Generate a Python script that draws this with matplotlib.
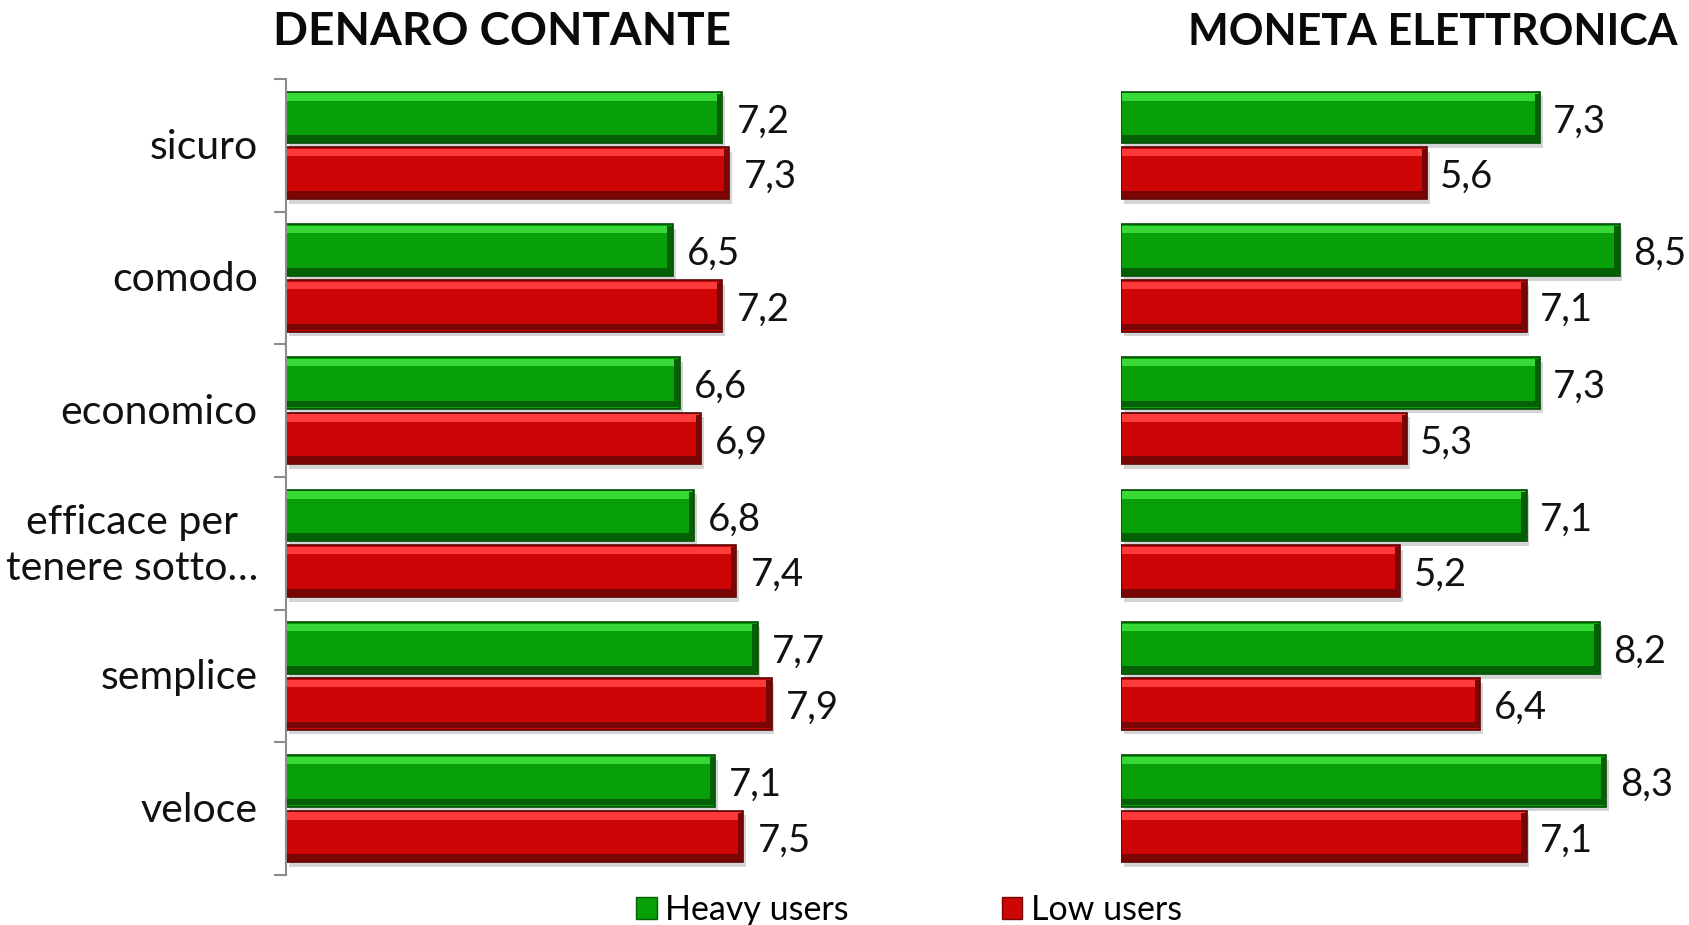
import matplotlib.pyplot as plt
import numpy as np
from matplotlib.patches import Patch

categories = ["sicuro", "comodo", "economico", "efficace per\ntenere sotto…", "semplice", "veloce"]

# DENARO CONTANTE
cash_heavy = [7.2, 6.5, 6.6, 6.8, 7.7, 7.1]
cash_low = [7.3, 7.2, 6.9, 7.4, 7.9, 7.5]

# MONETA ELETTRONICA
card_heavy = [7.3, 8.5, 7.3, 7.1, 8.2, 8.3]
card_low = [5.6, 7.1, 5.3, 5.2, 6.4, 7.1]

titles = ["DENARO CONTANTE", "MONETA ELETTRONICA"]
series_names = ["Heavy users", "Low users"]

plt.rcParams['font.family'] = ['Lato', 'DejaVu Sans']

GREEN = dict(base="#08a008", light="#36d936", dark="#056005", edge="#044a04")
RED = dict(base="#cc0606", light="#ff3a3a", dark="#7a0505", edge="#5a0404")

XMIN = 1
XMAX = 9
BAR_H = 0.39
OFF = 0.21


def bevel_bars(ax, y, vals, col):
    vals = np.asarray(vals)
    w = vals - XMIN
    # soft shadow
    ax.barh(y + 0.035, w, height=BAR_H, left=XMIN + 0.04, color="#d4d4d4",
            zorder=1, linewidth=0)
    ax.barh(y, w, height=BAR_H, left=XMIN, color=col["base"],
            edgecolor=col["edge"], linewidth=1.2, zorder=2)
    # top highlight / bottom shade
    ax.barh(y - BAR_H / 2 + 0.04, w - 0.05, height=0.055, left=XMIN + 0.02,
            color=col["light"], linewidth=0, zorder=3)
    ax.barh(y + BAR_H / 2 - 0.035, w - 0.03, height=0.05, left=XMIN + 0.01,
            color=col["dark"], linewidth=0, zorder=3)
    # right end bevel
    ax.barh(y, np.full(len(vals), 0.07), height=BAR_H - 0.03, left=vals - 0.08,
            color=col["dark"], linewidth=0, zorder=3)
    for yy, v in zip(y, vals):
        ax.text(v + 0.2, yy + 0.03, f"{v:.1f}".replace(".", ","), va="center",
                ha="left", fontsize=27.5, color="#111111")


fig = plt.figure(figsize=(16.9, 9.25), dpi=100)
axL = fig.add_axes([286 / 1690, 50 / 925, 563 / 1690, 796 / 925])
axR = fig.add_axes([1121 / 1690, 50 / 925, 532 / 1690, 796 / 925])

pos = np.arange(len(categories))
for ax, heavy, low in [(axL, cash_heavy, cash_low), (axR, card_heavy, card_low)]:
    bevel_bars(ax, pos - OFF, heavy, GREEN)
    bevel_bars(ax, pos + OFF, low, RED)
    ax.set_xlim(XMIN, XMAX)
    ax.set_ylim(len(categories) - 0.5, -0.5)
    ax.set_xticks([])
    for s in ["top", "right", "bottom"]:
        ax.spines[s].set_visible(False)
    ax.patch.set_alpha(0)

axL.spines["left"].set_color("#8c8c8c")
axL.spines["left"].set_linewidth(1.5)
axL.set_yticks(np.arange(len(categories) + 1) - 0.5)
axL.set_yticklabels([])
axL.tick_params(axis="y", length=9, width=1.5, color="#8c8c8c", direction="out")
for p, c in zip(pos, categories):
    axL.text(XMIN - 0.4, p + 0.015, c, ha="right", va="center", fontsize=29.5,
             color="#111111", linespacing=1.3, multialignment="center")

axR.spines["left"].set_visible(False)
axR.set_yticks([])

fig.text(502 / 1690, 1 - 32 / 925, titles[0], ha="center", va="center",
         fontsize=33, fontweight="bold", color="#0a0a0a")
fig.text(1678 / 1690, 1 - 32 / 925, titles[1], ha="right", va="center",
         fontsize=31, fontweight="bold", color="#0a0a0a")

handles = [Patch(facecolor=GREEN["base"], edgecolor=GREEN["dark"]),
           Patch(facecolor=RED["base"], edgecolor=RED["dark"])]
fig.legend(handles, series_names, loc="center", bbox_to_anchor=(909 / 1690, 1 - 910 / 925),
           ncol=2, frameon=False, fontsize=24.5, handlelength=0.6, handleheight=0.6,
           handletextpad=0.25, columnspacing=4.5, borderpad=0)

fig.savefig("out.png", dpi=100)
